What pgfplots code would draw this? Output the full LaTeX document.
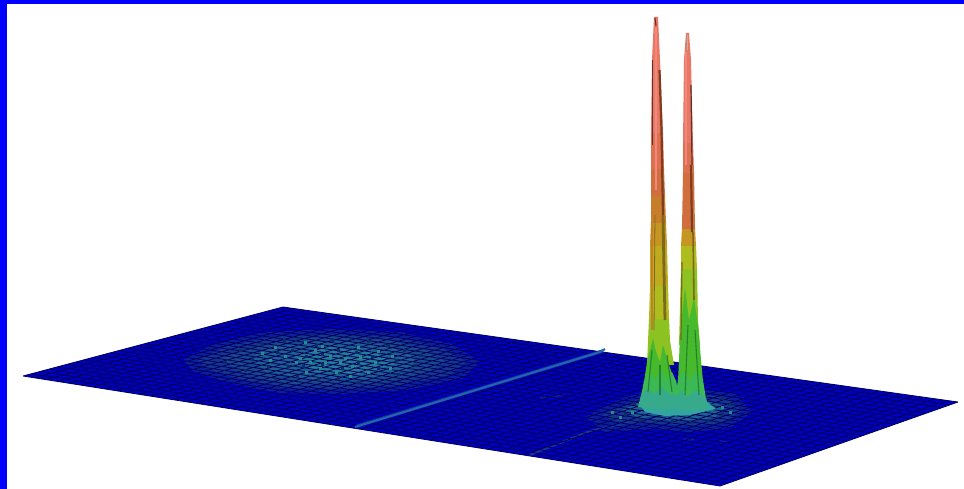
\documentclass[border=0pt]{standalone}
\usepackage{pgfplots}
\pgfplotsset{compat=1.18}
\definecolor{frameb}{RGB}{0,0,255}
\definecolor{planeb}{RGB}{0,0,192}
\definecolor{meshd}{RGB}{0,0,95}
\definecolor{ridge}{RGB}{35,100,170}
\definecolor{ridgeb}{RGB}{15,50,170}
\definecolor{az}{RGB}{10,30,160}
\definecolor{ba}{RGB}{20,55,145}
\definecolor{bab}{RGB}{24,75,140}
\definecolor{bb}{RGB}{28,98,145}
\definecolor{bc}{RGB}{35,125,150}
\definecolor{bd}{RGB}{50,165,160}
\definecolor{speck}{RGB}{38,140,145}
\definecolor{speckd}{RGB}{12,45,100}
\definecolor{ca}{RGB}{232,120,100}
\definecolor{cb}{RGB}{222,112,80}
\definecolor{cc}{RGB}{208,110,62}
\definecolor{cd}{RGB}{200,125,42}
\definecolor{ce}{RGB}{198,150,35}
\definecolor{cf}{RGB}{190,172,30}
\definecolor{cg}{RGB}{175,188,30}
\definecolor{ch}{RGB}{140,195,35}
\definecolor{ci}{RGB}{70,185,45}
\definecolor{cj}{RGB}{60,185,85}
\definecolor{ck}{RGB}{55,170,140}
\definecolor{dk}{RGB}{95,50,48}
\definecolor{br}{RGB}{125,62,30}
\definecolor{ol}{RGB}{125,105,30}
\definecolor{dg}{RGB}{35,130,45}
\definecolor{lt}{RGB}{242,135,125}
\begin{document}
\begin{tikzpicture}
\begin{axis}[
  scale only axis, width=964pt, height=489pt,
  xmin=0, xmax=964, ymin=0, ymax=489, y dir=reverse,
  axis lines=none, unbounded coords=jump, clip=true]
% frame
\addplot[fill=white,draw=none] coordinates {(0,0)(964,0)(964,489)(0,489)} --cycle;
\addplot[fill=frameb,draw=none] coordinates {(0,0)(964,0)(964,4)(0,4)} --cycle;
\addplot[fill=frameb,draw=none] coordinates {(0,0)(7,0)(7,489)(0,489)} --cycle;
% plane
\addplot[fill=planeb,draw=none] coordinates {(23,376)(283,307)(958,402)(720,486)} --cycle;
% hump on the left
\addplot[fill=az,draw=none] coordinates {(183,360)(213,344)(265,332)(330,329)(400,332)(452,344)(480,362)(462,379)(400,391)(340,394)(280,393)(228,383)(193,371)} --cycle;
\addplot[fill=ba,draw=none] coordinates {(198,360)(225,347)(270,337)(330,334)(395,337)(442,348)(466,362)(450,375)(395,386)(340,389)(282,388)(236,378)(205,368)} --cycle;
\addplot[fill=bab,draw=none] coordinates {(220,359)(245,349)(280,341)(330,337)(390,340)(428,351)(445,362)(425,373)(385,382)(335,385)(285,384)(245,374)} --cycle;
\addplot[fill=bb,draw=none] coordinates {(250,358)(270,347)(330,341)(380,344)(415,356)(412,369)(370,379)(305,379)(265,371)} --cycle;
\addplot[fill=bc,draw=none] coordinates {(295,356)(330,347)(372,351)(395,364)(362,374)(315,372)} --cycle;
% foot of the peaks
\addplot[fill=az,draw=none] coordinates {(585,417)(620,399)(650,390)(700,390)(735,393)(752,412)(730,428)(690,432)(650,429)(605,432)} --cycle;
\addplot[fill=ba,draw=none] coordinates {(602,415)(630,402)(655,394)(700,394)(728,398)(742,411)(722,423)(690,426)(650,423)(620,424)} --cycle;
\addplot[fill=bb,draw=none] coordinates {(622,410)(645,400)(700,398)(725,407)(715,418)(680,421)(640,418)} --cycle;
\addplot[draw=ba,line width=2.2pt] coordinates {(530,455)(590,431)(673,413)};
\addplot[draw=az,line width=2.5pt] coordinates {(683,440)(694,439)};
\addplot[draw=az,line width=2pt] coordinates {(718,441)(726,442)};
\addplot[draw=az,line width=2pt] coordinates {(540,398)(565,395)};
% mesh
\addplot[draw=meshd,line width=0.8pt] table[row sep=\\] {x y\\
23.0 376.0\\283.0 307.0\\nan nan\\34.6 377.8\\294.3 308.6\\nan nan\\46.2 379.7\\305.5 310.2\\nan nan\\57.9 381.5\\316.8 311.7\\nan nan\\69.5 383.3\\328.0 313.3\\nan nan\\
81.1 385.2\\339.3 314.9\\nan nan\\92.7 387.0\\350.5 316.5\\nan nan\\104.3 388.8\\361.8 318.1\\nan nan\\115.9 390.7\\373.0 319.7\\nan nan\\127.6 392.5\\384.3 321.2\\nan nan\\
139.2 394.3\\395.5 322.8\\nan nan\\150.8 396.2\\406.8 324.4\\nan nan\\162.4 398.0\\418.0 326.0\\nan nan\\174.0 399.8\\429.3 327.6\\nan nan\\185.6 401.7\\440.5 329.2\\nan nan\\
197.3 403.5\\451.8 330.7\\nan nan\\208.9 405.3\\463.0 332.3\\nan nan\\220.5 407.2\\474.3 333.9\\nan nan\\232.1 409.0\\485.5 335.5\\nan nan\\243.7 410.8\\496.8 337.1\\nan nan\\
255.3 412.7\\508.0 338.7\\nan nan\\267.0 414.5\\519.3 340.2\\nan nan\\278.6 416.3\\530.5 341.8\\nan nan\\290.2 418.2\\541.8 343.4\\nan nan\\301.8 420.0\\553.0 345.0\\nan nan\\
313.4 421.8\\564.3 346.6\\nan nan\\325.0 423.7\\575.5 348.2\\nan nan\\336.7 425.5\\586.8 349.7\\nan nan\\348.3 427.3\\598.0 351.3\\nan nan\\359.9 429.2\\609.3 352.9\\nan nan\\
371.5 431.0\\620.5 354.5\\nan nan\\383.1 432.8\\631.8 356.1\\nan nan\\394.7 434.7\\643.0 357.7\\nan nan\\406.4 436.5\\654.3 359.2\\nan nan\\418.0 438.3\\665.5 360.8\\nan nan\\
429.6 440.2\\676.8 362.4\\nan nan\\441.2 442.0\\688.0 364.0\\nan nan\\452.8 443.8\\699.3 365.6\\nan nan\\464.4 445.7\\710.5 367.2\\nan nan\\476.1 447.5\\721.8 368.7\\nan nan\\
487.7 449.3\\733.0 370.3\\nan nan\\499.3 451.2\\744.3 371.9\\nan nan\\510.9 453.0\\755.5 373.5\\nan nan\\522.5 454.8\\766.8 375.1\\nan nan\\534.1 456.7\\778.0 376.7\\nan nan\\
545.8 458.5\\789.3 378.2\\nan nan\\557.4 460.3\\800.5 379.8\\nan nan\\569.0 462.2\\811.8 381.4\\nan nan\\580.6 464.0\\823.0 383.0\\nan nan\\592.2 465.8\\834.3 384.6\\nan nan\\
603.8 467.7\\845.5 386.2\\nan nan\\615.5 469.5\\856.8 387.7\\nan nan\\627.1 471.3\\868.0 389.3\\nan nan\\638.7 473.2\\879.3 390.9\\nan nan\\650.3 475.0\\890.5 392.5\\nan nan\\
661.9 476.8\\901.8 394.1\\nan nan\\673.6 478.7\\913.0 395.7\\nan nan\\685.2 480.5\\924.3 397.2\\nan nan\\696.8 482.3\\935.5 398.8\\nan nan\\708.4 484.2\\946.8 400.4\\nan nan\\720.0 486.0\\958.0 402.0\\nan nan\\
23 376\\720 486\\nan nan\\31.7 373.7\\727.9 483.2\\nan nan\\40.3 371.4\\735.9 480.4\\nan nan\\49.0 369.1\\743.8 477.6\\nan nan\\57.7 366.8\\751.7 474.8\\nan nan\\
66.3 364.5\\759.7 472.0\\nan nan\\75.0 362.2\\767.6 469.2\\nan nan\\83.7 359.9\\775.5 466.4\\nan nan\\92.3 357.6\\783.5 463.6\\nan nan\\101.0 355.3\\791.4 460.8\\nan nan\\
109.7 353.0\\799.3 458.0\\nan nan\\118.3 350.7\\807.3 455.2\\nan nan\\127.0 348.4\\815.2 452.4\\nan nan\\135.7 346.1\\823.1 449.6\\nan nan\\144.3 343.8\\831.1 446.8\\nan nan\\
153.0 341.5\\839.0 444.0\\nan nan\\161.7 339.2\\846.9 441.2\\nan nan\\170.3 336.9\\854.9 438.4\\nan nan\\179.0 334.6\\862.8 435.6\\nan nan\\187.7 332.3\\870.7 432.8\\nan nan\\
196.3 330.0\\878.7 430.0\\nan nan\\205.0 327.7\\886.6 427.2\\nan nan\\213.7 325.4\\894.5 424.4\\nan nan\\222.3 323.1\\902.5 421.6\\nan nan\\231.0 320.8\\910.4 418.8\\nan nan\\
239.7 318.5\\918.3 416.0\\nan nan\\248.3 316.2\\926.3 413.2\\nan nan\\257.0 313.9\\934.2 410.4\\nan nan\\265.7 311.6\\942.1 407.6\\nan nan\\274.3 309.3\\950.1 404.8\\nan nan\\283 307\\958 402\\
};
% speckle on the hump: dark, then light
\addplot[only marks,speckd,mark=square*,mark size=1.3pt,mark options={fill=speckd,draw=speckd}] coordinates {
(240,350)(262,344)(284,340)(298,338)(316,345)(332,340)(350,338)(368,341)(388,345)(404,350)(420,355)
(225,362)(252,358)(277,352)(292,350)(306,356)(322,354)(338,350)(356,352)(372,356)(396,360)(415,365)
(245,370)(268,366)(288,366)(303,366)(322,364)(342,368)(358,362)(378,368)(398,374)
(275,378)(297,376)(318,378)(338,378)(358,382)};
\addplot[only marks,speck,mark=square*,mark size=1.2pt,mark options={fill=speck,draw=speck}] coordinates {
(275,347)(305,342)(322,346)(358,347)(378,351)(392,356)
(270,360)(285,356)(300,358)(315,350)(330,356)(345,358)(360,357)(375,362)(390,368)
(296,362)(310,362)(325,362)(340,362)(352,366)(368,372)
(306,372)(320,368)(336,372)(350,376)(262,353)};
% ridge line
\addplot[draw=ridgeb,line width=3.4pt] coordinates {(357,426)(603,351)};
\addplot[draw=ridge,line width=2pt] coordinates {(355,427)(600,352)(605,349)};
% foot, upper layer
\addplot[fill=bd,draw=none] coordinates {(640,405)(660,396)(700,396)(716,409)(690,415)(665,416)(645,412)} --cycle;
% left peak
\addplot[fill=ci,draw=none] coordinates {(644,380)(676,380)(678,396)(643,396)} --cycle;
\addplot[fill=ch,draw=none] coordinates {(649,318)(669,318)(670,341)(674,365)(647,365)} --cycle;
\addplot[fill=ci,draw=none] coordinates {(647,362)(653,338)(656,352)(660,362)(663,345)(668,362)(675,382)(644,382)} --cycle;
\addplot[fill=cg,draw=none] coordinates {(650,285)(668,285)(669,319)(649,319)} --cycle;
\addplot[fill=cf,draw=none] coordinates {(650,245)(667,245)(668,286)(650,286)} --cycle;
\addplot[fill=ce,draw=none] coordinates {(651,222)(666,222)(667,246)(650,246)} --cycle;
\addplot[fill=cd,draw=none] coordinates {(651,195)(665,195)(666,223)(651,223)} --cycle;
\addplot[fill=cc,draw=none] coordinates {(651,168)(664,168)(665,196)(651,196)} --cycle;
\addplot[fill=cb,draw=none] coordinates {(651,132)(663,132)(664,169)(651,169)} --cycle;
\addplot[fill=ca,draw=none] coordinates {(654,17)(658,17)(660,60)(663,133)(651,133)(652,60)} --cycle;
\addplot[fill=cj,draw=none] coordinates {(644,381)(650,372)(655,380)(661,370)(667,380)(672,372)(676,381)(679,396)(641,396)} --cycle;
\addplot[fill=ck,draw=none] coordinates {(641,395)(648,388)(654,394)(662,387)(670,394)(679,395)(682,407)(662,410)(638,407)} --cycle;
% right peak
\addplot[fill=ch,draw=none] coordinates {(681,268)(697,268)(698,320)(700,345)(679,345)} --cycle;
\addplot[fill=ci,draw=none] coordinates {(680,335)(685,288)(689,320)(694,298)(698,325)(701,360)(703,381)(678,381)(679,360)} --cycle;
\addplot[fill=cg,draw=none] coordinates {(681,245)(696,245)(697,269)(681,269)} --cycle;
\addplot[fill=ce,draw=none] coordinates {(682,228)(695,228)(696,246)(681,246)} --cycle;
\addplot[fill=cc,draw=none] coordinates {(683,172)(694,172)(695,229)(682,229)} --cycle;
\addplot[fill=cb,draw=none] coordinates {(683,142)(693,142)(694,173)(683,173)} --cycle;
\addplot[fill=ca,draw=none] coordinates {(686,33)(689,33)(691,60)(693,143)(683,143)(684,60)} --cycle;
\addplot[fill=cj,draw=none] coordinates {(678,380)(684,372)(690,380)(696,371)(703,380)(706,399)(675,399)} --cycle;
\addplot[fill=ck,draw=none] coordinates {(675,398)(681,391)(688,397)(696,390)(706,398)(709,409)(690,411)(672,409)} --cycle;
% facets, left peak
\addplot[draw=lt,line width=1.6pt] coordinates {(656,28)(656,130)(656,190)};
\addplot[draw=dk,line width=1.1pt] coordinates {(655,18)(656,26)};
\addplot[draw=dk,line width=1.2pt] coordinates {(652.5,60)(652.5,145)};
\addplot[draw=br,line width=2.2pt] coordinates {(659.5,70)(661.5,130)(663,215)};
\addplot[draw=ol,line width=2.8pt] coordinates {(663,215)(664,270)(665,320)};
\addplot[draw=cd,line width=1.8pt] coordinates {(652,200)(652,330)};
\addplot[draw=ol,line width=0.8pt] coordinates {(655,215)(654,330)};
\addplot[draw=dg,line width=1.1pt] coordinates {(652,350)(648,392)};
\addplot[draw=dg,line width=1.1pt] coordinates {(660,365)(660,395)};
\addplot[draw=dg,line width=1.1pt] coordinates {(667,355)(672,392)};
% facets, right peak
\addplot[draw=gray!60,line width=1.6pt] coordinates {(687.5,35)(687.5,50)};
\addplot[draw=lt,line width=1.4pt] coordinates {(686,52)(686,165)};
\addplot[draw=dk,line width=1.2pt] coordinates {(691,85)(692,165)};
\addplot[draw=br,line width=2.2pt] coordinates {(691,165)(692,232)};
\addplot[draw=ol,line width=1.6pt] coordinates {(693,232)(694,300)};
\addplot[draw=ol,line width=1.2pt] coordinates {(682,262)(681,340)};
\addplot[draw=dg,line width=1.1pt] coordinates {(688,325)(685,395)};
\addplot[draw=dg,line width=1.1pt] coordinates {(695,330)(699,395)};
% speckle at the foot
\addplot[only marks,speckd,mark=square*,mark size=1.2pt,mark options={fill=speckd,draw=speckd}] coordinates {
(625,414)(640,420)(655,421)(672,421)(690,422)(708,420)(722,414)(730,404)(722,398)(612,418)(634,403)};
\addplot[only marks,speck,mark=square*,mark size=1.1pt,mark options={fill=speck,draw=speck}] coordinates {
(632,412)(722,407)(620,417)(730,412)(612,412)};
\end{axis}
\end{tikzpicture}
\end{document}
